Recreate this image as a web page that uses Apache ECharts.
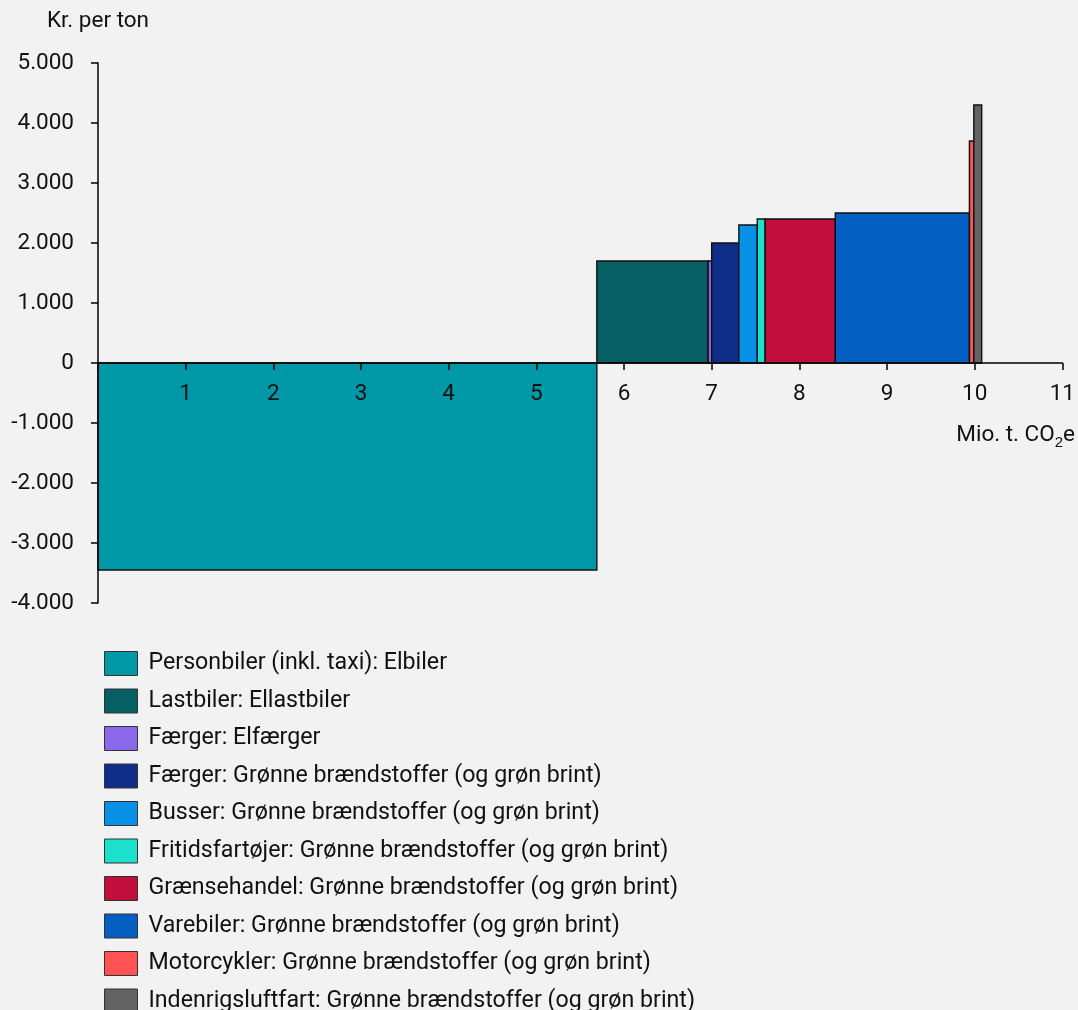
<!DOCTYPE html>
<html>
<head>
<meta charset="utf-8">
<script src="https://cdn.jsdelivr.net/npm/echarts@6/dist/echarts.min.js"></script>
<style>
  html, body { margin: 0; padding: 0; background: #f2f2f2; }
  #chart { width: 1078px; height: 1010px; }
</style>
</head>
<body>
<div id="chart"></div>
<script>
// tiltag (rækkefølge som i kurven)
const labels = [
  "Personbiler (inkl. taxi): Elbiler",
  "Lastbiler: Ellastbiler",
  "Færger: Elfærger",
  "Færger: Grønne brændstoffer (og grøn brint)",
  "Busser: Grønne brændstoffer (og grøn brint)",
  "Fritidsfartøjer: Grønne brændstoffer (og grøn brint)",
  "Grænsehandel: Grønne brændstoffer (og grøn brint)",
  "Varebiler: Grønne brændstoffer (og grøn brint)",
  "Motorcykler: Grønne brændstoffer (og grøn brint)",
  "Indenrigsluftfart: Grønne brændstoffer (og grøn brint)"
];
// reduktion, mio. t. CO2e (bredde)
const reductions = [5.69, 1.27, 0.04, 0.31, 0.21, 0.09, 0.80, 1.53, 0.05, 0.09];
// omkostning, kr. per ton (højde)
const costs = [-3450, 1700, 1700, 2000, 2300, 2400, 2400, 2500, 3700, 4300];
const colors = ["#0097a7", "#055f63", "#8b68ea", "#0f2c87", "#0891e6", "#1de0cc",
                "#c20e3d", "#035fc2", "#ff5252", "#636363"];
const xTicks = [0, 1, 2, 3, 4, 5, 6, 7, 8, 9, 10, 11];

let start = 0;
const series = labels.map((name, i) => {
  const s = start, e = start + reductions[i];
  start = e;
  return {
    name: name,
    type: "custom",
    z: 2,
    itemStyle: { color: colors[i], borderColor: "#222", borderWidth: 1 },
    encode: { x: [0, 1], y: 2 },
    data: [[s, e, costs[i]]],
    renderItem: function (params, api) {
      const p0 = api.coord([api.value(0), 0]);
      const p1 = api.coord([api.value(1), api.value(2)]);
      return {
        type: "rect",
        shape: {
          x: p0[0], y: Math.min(p0[1], p1[1]),
          width: p1[0] - p0[0], height: Math.abs(p1[1] - p0[1])
        },
        style: { fill: colors[i], stroke: "#111", lineWidth: 1.4 }
      };
    }
  };
});

const myChart = echarts.init(document.getElementById("chart"));
myChart.setOption({
  backgroundColor: "#f2f2f2",
  animation: false,
  textStyle: { fontFamily: "Roboto" },
  grid: { left: 98, right: 15, top: 63, bottom: 407, containLabel: false },
  xAxis: {
    type: "value",
    z: 10,
    min: 0,
    max: 11,
    interval: 1,
    axisLine: { onZero: true, lineStyle: { color: "#000", width: 1.5 } },
    axisTick: { show: true, length: 7, lineStyle: { color: "#000", width: 1.5 } },
    axisLabel: {
      // labels sit under the zero line, not at the grid bottom
      margin: -220,
      fontSize: 22.5,
      color: "#111",
      formatter: (v) => (v === 0 ? "" : String(xTicks[v]))
    },
    splitLine: { show: false }
  },
  yAxis: {
    type: "value",
    z: 10,
    min: -4000,
    max: 5000,
    interval: 1000,
    name: "Kr. per ton",
    nameLocation: "end",
    nameGap: 30,
    nameTextStyle: { fontSize: 22.5, color: "#111", align: "center" },
    axisLine: { show: true, lineStyle: { color: "#000", width: 1.5 } },
    axisTick: { show: true, length: 7, lineStyle: { color: "#000", width: 1.5 } },
    axisLabel: {
      margin: 24,
      fontSize: 22.5,
      color: "#111",
      formatter: (v) => (v < 0 ? "-" : "") + Math.abs(v).toString().replace(/\B(?=(\d{3})+(?!\d))/g, ".")
    },
    splitLine: { show: false }
  },
  legend: {
    orient: "vertical",
    left: 104,
    top: 651,
    height: 400,
    padding: 0,
    itemWidth: 33,
    itemHeight: 24,
    itemGap: 12.5,
    icon: "rect",
    textStyle: { fontSize: 23.2, lineHeight: 23, color: "#111", padding: [0, 0, 0, 6] },
    itemStyle: { borderColor: "#333", borderWidth: 1 },
    selectedMode: false,
    data: labels
  },
  graphic: [{
    type: "text",
    right: 3,
    top: 424,
    style: {
      text: "Mio. t. CO{sub|2}e",
      fill: "#111",
      font: "22.5px Roboto",
      rich: { sub: { fontSize: 15, verticalAlign: "bottom", padding: [14, 0, 0, 0] } }
    }
  }],
  series: series
});
</script>
</body>
</html>
